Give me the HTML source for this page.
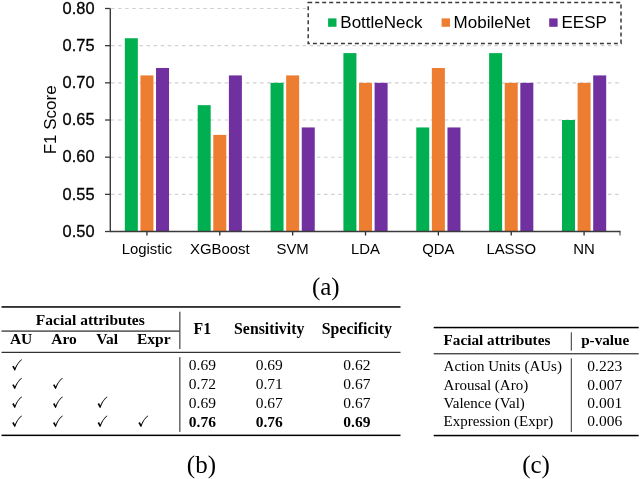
<!DOCTYPE html>
<html><head><meta charset="utf-8"><style>
html,body{margin:0;padding:0;background:#fff;width:640px;height:479px;overflow:hidden}
body{position:relative;font-family:"Liberation Sans",sans-serif}
svg text{font-family:inherit}
.yl{stroke:#000;stroke-width:0.3px}
svg{will-change:transform}
</style></head><body>
<svg class="cs" width="640" height="479" viewBox="0 0 640 479" style="position:absolute;left:0;top:0">
<line x1="111" y1="8.50" x2="620" y2="8.50" stroke="#D0D0D0" stroke-width="1.1" stroke-dasharray="3.5 3.6"/>
<line x1="111" y1="45.67" x2="620" y2="45.67" stroke="#D0D0D0" stroke-width="1.1" stroke-dasharray="3.5 3.6"/>
<line x1="111" y1="82.84" x2="620" y2="82.84" stroke="#D0D0D0" stroke-width="1.1" stroke-dasharray="3.5 3.6"/>
<line x1="111" y1="120.01" x2="620" y2="120.01" stroke="#D0D0D0" stroke-width="1.1" stroke-dasharray="3.5 3.6"/>
<line x1="111" y1="157.18" x2="620" y2="157.18" stroke="#D0D0D0" stroke-width="1.1" stroke-dasharray="3.5 3.6"/>
<line x1="111" y1="194.35" x2="620" y2="194.35" stroke="#D0D0D0" stroke-width="1.1" stroke-dasharray="3.5 3.6"/>
<rect x="124.83" y="38.24" width="13.0" height="193.26" fill="#00B050"/>
<rect x="140.43" y="75.41" width="13.0" height="156.09" fill="#ED7D31"/>
<rect x="156.03" y="67.97" width="13.0" height="163.53" fill="#7030A0"/>
<line x1="146.93" y1="231.5" x2="146.93" y2="235.5" stroke="#2a2a2a" stroke-width="1.3"/>
<text x="146.93" y="253.9" font-size="14.9" text-anchor="middle" fill="#000">Logistic</text>
<rect x="197.69" y="105.14" width="13.0" height="126.36" fill="#00B050"/>
<rect x="213.29" y="134.88" width="13.0" height="96.62" fill="#ED7D31"/>
<rect x="228.89" y="75.41" width="13.0" height="156.09" fill="#7030A0"/>
<line x1="219.79" y1="231.5" x2="219.79" y2="235.5" stroke="#2a2a2a" stroke-width="1.3"/>
<text x="219.79" y="253.9" font-size="14.9" text-anchor="middle" fill="#000">XGBoost</text>
<rect x="270.55" y="82.84" width="13.0" height="148.66" fill="#00B050"/>
<rect x="286.15" y="75.41" width="13.0" height="156.09" fill="#ED7D31"/>
<rect x="301.75" y="127.44" width="13.0" height="104.06" fill="#7030A0"/>
<line x1="292.65" y1="231.5" x2="292.65" y2="235.5" stroke="#2a2a2a" stroke-width="1.3"/>
<text x="292.65" y="253.9" font-size="14.9" text-anchor="middle" fill="#000">SVM</text>
<rect x="343.41" y="53.10" width="13.0" height="178.40" fill="#00B050"/>
<rect x="359.01" y="82.84" width="13.0" height="148.66" fill="#ED7D31"/>
<rect x="374.61" y="82.84" width="13.0" height="148.66" fill="#7030A0"/>
<line x1="365.51" y1="231.5" x2="365.51" y2="235.5" stroke="#2a2a2a" stroke-width="1.3"/>
<text x="365.51" y="253.9" font-size="14.9" text-anchor="middle" fill="#000">LDA</text>
<rect x="416.27" y="127.44" width="13.0" height="104.06" fill="#00B050"/>
<rect x="431.87" y="67.97" width="13.0" height="163.53" fill="#ED7D31"/>
<rect x="447.47" y="127.44" width="13.0" height="104.06" fill="#7030A0"/>
<line x1="438.37" y1="231.5" x2="438.37" y2="235.5" stroke="#2a2a2a" stroke-width="1.3"/>
<text x="438.37" y="253.9" font-size="14.9" text-anchor="middle" fill="#000">QDA</text>
<rect x="489.13" y="53.10" width="13.0" height="178.40" fill="#00B050"/>
<rect x="504.73" y="82.84" width="13.0" height="148.66" fill="#ED7D31"/>
<rect x="520.33" y="82.84" width="13.0" height="148.66" fill="#7030A0"/>
<line x1="511.23" y1="231.5" x2="511.23" y2="235.5" stroke="#2a2a2a" stroke-width="1.3"/>
<text x="511.23" y="253.9" font-size="14.9" text-anchor="middle" fill="#000">LASSO</text>
<rect x="561.99" y="120.01" width="13.0" height="111.49" fill="#00B050"/>
<rect x="577.59" y="82.84" width="13.0" height="148.66" fill="#ED7D31"/>
<rect x="593.19" y="75.41" width="13.0" height="156.09" fill="#7030A0"/>
<line x1="584.09" y1="231.5" x2="584.09" y2="235.5" stroke="#2a2a2a" stroke-width="1.3"/>
<text x="584.09" y="253.9" font-size="14.9" text-anchor="middle" fill="#000">NN</text>
<line x1="110.3" y1="8.5" x2="110.3" y2="231.5" stroke="#3a3a3a" stroke-width="1.4"/>
<line x1="109.8" y1="231.5" x2="620.5" y2="231.5" stroke="#3a3a3a" stroke-width="1.3"/>
<line x1="620" y1="231.5" x2="620" y2="235.5" stroke="#3a3a3a" stroke-width="1"/>
<line x1="105" y1="8.50" x2="110.3" y2="8.50" stroke="#3a3a3a" stroke-width="1.3"/>
<text x="94.5" y="13.70" font-size="16.4" text-anchor="end" fill="#000" class="yl">0.80</text>
<line x1="105" y1="45.67" x2="110.3" y2="45.67" stroke="#3a3a3a" stroke-width="1.3"/>
<text x="94.5" y="50.87" font-size="16.4" text-anchor="end" fill="#000" class="yl">0.75</text>
<line x1="105" y1="82.84" x2="110.3" y2="82.84" stroke="#3a3a3a" stroke-width="1.3"/>
<text x="94.5" y="88.04" font-size="16.4" text-anchor="end" fill="#000" class="yl">0.70</text>
<line x1="105" y1="120.01" x2="110.3" y2="120.01" stroke="#3a3a3a" stroke-width="1.3"/>
<text x="94.5" y="125.21" font-size="16.4" text-anchor="end" fill="#000" class="yl">0.65</text>
<line x1="105" y1="157.18" x2="110.3" y2="157.18" stroke="#3a3a3a" stroke-width="1.3"/>
<text x="94.5" y="162.38" font-size="16.4" text-anchor="end" fill="#000" class="yl">0.60</text>
<line x1="105" y1="194.35" x2="110.3" y2="194.35" stroke="#3a3a3a" stroke-width="1.3"/>
<text x="94.5" y="199.55" font-size="16.4" text-anchor="end" fill="#000" class="yl">0.55</text>
<line x1="105" y1="231.52" x2="110.3" y2="231.52" stroke="#3a3a3a" stroke-width="1.3"/>
<text x="94.5" y="236.72" font-size="16.4" text-anchor="end" fill="#000" class="yl">0.50</text>
<text transform="translate(56.3 119.8) rotate(-90)" font-size="17" text-anchor="middle" fill="#000">F1 Score</text>
<rect x="308.2" y="2.4" width="312.8" height="41.1" fill="#fff" stroke="#3a3a3a" stroke-width="1.5" stroke-dasharray="4 3"/>
<rect x="328.1" y="18.4" width="8.4" height="8.4" fill="#00B050"/>
<text x="340.3" y="27.5" font-size="17" fill="#000">BottleNeck</text>
<rect x="441.6" y="18.4" width="8.4" height="8.4" fill="#ED7D31"/>
<text x="453.6" y="27.5" font-size="17" fill="#000">MobileNet</text>
<rect x="549.2" y="18.4" width="8.4" height="8.4" fill="#7030A0"/>
<text x="561.5" y="27.5" font-size="17" fill="#000">EESP</text>
</svg>
<svg width="640" height="479" viewBox="0 0 640 479" style="position:absolute;left:0;top:0;font-family:'Liberation Serif',serif">
<text x="325.75" y="295" font-size="25" text-anchor="middle">(a)</text>
<text x="201.4" y="473" font-size="25" text-anchor="middle">(b)</text>
<text x="536" y="473" font-size="25" text-anchor="middle">(c)</text>
<rect x="1.5" y="306.2" width="399" height="1.5" fill="#000"/>
<rect x="1.5" y="330.4" width="178" height="1.4" fill="#444"/>
<rect x="1.5" y="351.8" width="399" height="1" fill="#000"/>
<rect x="1.5" y="434.6" width="399" height="1.5" fill="#000"/>
<rect x="179.3" y="311.7" width="1.1" height="37.3" fill="#333"/>
<rect x="179.3" y="357.1" width="1.1" height="74.8" fill="#333"/>
<text x="90.3" y="325" font-size="15.5" text-anchor="middle" font-weight="bold">Facial attributes</text>
<text x="21.1" y="343.75" font-size="15.5" text-anchor="middle" font-weight="bold">AU</text>
<text x="64.1" y="343.75" font-size="15.5" text-anchor="middle" font-weight="bold">Aro</text>
<text x="107.1" y="343.75" font-size="15.5" text-anchor="middle" font-weight="bold">Val</text>
<text x="153.8" y="343.75" font-size="15.5" text-anchor="middle" font-weight="bold">Expr</text>
<text x="202.4" y="334.3" font-size="15.8" text-anchor="middle" font-weight="bold">F1</text>
<text x="269.2" y="334.3" font-size="15.8" text-anchor="middle" font-weight="bold">Sensitivity</text>
<text x="356.9" y="334.3" font-size="15.8" text-anchor="middle" font-weight="bold">Specificity</text>
<text x="202.4" y="370.3" font-size="15.5" text-anchor="middle">0.69</text>
<text x="269.2" y="370.3" font-size="15.5" text-anchor="middle">0.69</text>
<text x="356.9" y="370.3" font-size="15.5" text-anchor="middle">0.62</text>
<text x="202.4" y="388.7" font-size="15.5" text-anchor="middle">0.72</text>
<text x="269.2" y="388.7" font-size="15.5" text-anchor="middle">0.71</text>
<text x="356.9" y="388.7" font-size="15.5" text-anchor="middle">0.67</text>
<text x="202.4" y="407.6" font-size="15.5" text-anchor="middle">0.69</text>
<text x="269.2" y="407.6" font-size="15.5" text-anchor="middle">0.67</text>
<text x="356.9" y="407.6" font-size="15.5" text-anchor="middle">0.67</text>
<text x="202.4" y="426.6" font-size="15.5" text-anchor="middle" font-weight="bold">0.76</text>
<text x="269.2" y="426.6" font-size="15.5" text-anchor="middle" font-weight="bold">0.76</text>
<text x="356.9" y="426.6" font-size="15.5" text-anchor="middle" font-weight="bold">0.69</text>
<path transform="translate(11.8 359.1)" d="M0.4 7.5 L1.9 6.7 L3.1 9.0 C4.7 5.4 6.9 2.5 9.8 0.2 L10.2 0.7 C7.2 2.9 5.0 6.5 3.4 11.3 L2.7 11.5 Z" fill="#000"/>
<path transform="translate(11.8 377.5)" d="M0.4 7.5 L1.9 6.7 L3.1 9.0 C4.7 5.4 6.9 2.5 9.8 0.2 L10.2 0.7 C7.2 2.9 5.0 6.5 3.4 11.3 L2.7 11.5 Z" fill="#000"/>
<path transform="translate(52.6 377.5)" d="M0.4 7.5 L1.9 6.7 L3.1 9.0 C4.7 5.4 6.9 2.5 9.8 0.2 L10.2 0.7 C7.2 2.9 5.0 6.5 3.4 11.3 L2.7 11.5 Z" fill="#000"/>
<path transform="translate(11.8 396.40000000000003)" d="M0.4 7.5 L1.9 6.7 L3.1 9.0 C4.7 5.4 6.9 2.5 9.8 0.2 L10.2 0.7 C7.2 2.9 5.0 6.5 3.4 11.3 L2.7 11.5 Z" fill="#000"/>
<path transform="translate(52.6 396.40000000000003)" d="M0.4 7.5 L1.9 6.7 L3.1 9.0 C4.7 5.4 6.9 2.5 9.8 0.2 L10.2 0.7 C7.2 2.9 5.0 6.5 3.4 11.3 L2.7 11.5 Z" fill="#000"/>
<path transform="translate(97.2 396.40000000000003)" d="M0.4 7.5 L1.9 6.7 L3.1 9.0 C4.7 5.4 6.9 2.5 9.8 0.2 L10.2 0.7 C7.2 2.9 5.0 6.5 3.4 11.3 L2.7 11.5 Z" fill="#000"/>
<path transform="translate(11.8 415.40000000000003)" d="M0.4 7.5 L1.9 6.7 L3.1 9.0 C4.7 5.4 6.9 2.5 9.8 0.2 L10.2 0.7 C7.2 2.9 5.0 6.5 3.4 11.3 L2.7 11.5 Z" fill="#000"/>
<path transform="translate(52.6 415.40000000000003)" d="M0.4 7.5 L1.9 6.7 L3.1 9.0 C4.7 5.4 6.9 2.5 9.8 0.2 L10.2 0.7 C7.2 2.9 5.0 6.5 3.4 11.3 L2.7 11.5 Z" fill="#000"/>
<path transform="translate(97.2 415.40000000000003)" d="M0.4 7.5 L1.9 6.7 L3.1 9.0 C4.7 5.4 6.9 2.5 9.8 0.2 L10.2 0.7 C7.2 2.9 5.0 6.5 3.4 11.3 L2.7 11.5 Z" fill="#000"/>
<path transform="translate(138.0 415.40000000000003)" d="M0.4 7.5 L1.9 6.7 L3.1 9.0 C4.7 5.4 6.9 2.5 9.8 0.2 L10.2 0.7 C7.2 2.9 5.0 6.5 3.4 11.3 L2.7 11.5 Z" fill="#000"/>
<rect x="433.7" y="326.8" width="205" height="1.5" fill="#000"/>
<rect x="433.7" y="353.3" width="205" height="1" fill="#000"/>
<rect x="433.7" y="434.8" width="205" height="1.5" fill="#000"/>
<rect x="570.8" y="332.3" width="1" height="18.3" fill="#333"/>
<rect x="570.8" y="358.3" width="1" height="73.7" fill="#333"/>
<text x="443.6" y="344.8" font-size="15.2" text-anchor="start" font-weight="bold">Facial attributes</text>
<text x="605.2" y="344.8" font-size="15.2" text-anchor="middle" font-weight="bold">p-value</text>
<text x="443.6" y="371.25" font-size="15" text-anchor="start">Action Units (AUs)</text>
<text x="604.7" y="371.25" font-size="15.5" text-anchor="middle">0.223</text>
<text x="443.6" y="389.6" font-size="15" text-anchor="start">Arousal (Aro)</text>
<text x="604.7" y="389.6" font-size="15.5" text-anchor="middle">0.007</text>
<text x="443.6" y="408" font-size="15" text-anchor="start">Valence (Val)</text>
<text x="604.7" y="408" font-size="15.5" text-anchor="middle">0.001</text>
<text x="443.6" y="426.3" font-size="15" text-anchor="start">Expression (Expr)</text>
<text x="604.7" y="426.3" font-size="15.5" text-anchor="middle">0.006</text>
</svg>
</body></html>
